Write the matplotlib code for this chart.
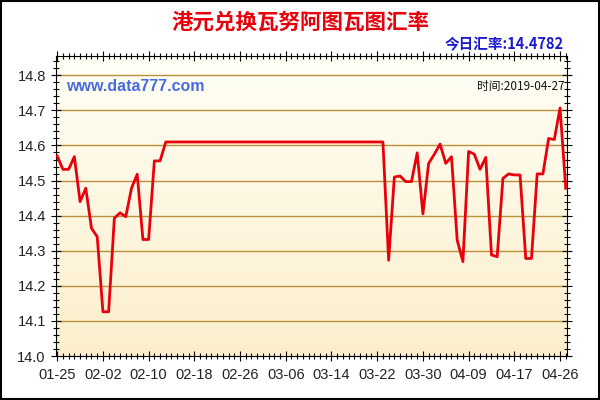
import numpy as np
import matplotlib
matplotlib.use('Agg')
import matplotlib.pyplot as plt
from matplotlib.ticker import MultipleLocator

plt.rcParams['font.family'] = ['Liberation Sans', 'Noto Sans CJK SC', 'DejaVu Sans']

# ─── data (HKD -> VUV, one point per trading day) ───
rates = [
    14.570, 14.532, 14.532, 14.568, 14.440, 14.478, 14.364, 14.340, 14.126, 14.126,
    14.393, 14.408, 14.397, 14.478, 14.518, 14.332, 14.332, 14.556, 14.556, 14.610,
    14.610, 14.610, 14.610, 14.610, 14.610, 14.610, 14.610, 14.610, 14.610, 14.610,
    14.610, 14.610, 14.610, 14.610, 14.610, 14.610, 14.610, 14.610, 14.610, 14.610,
    14.610, 14.610, 14.610, 14.610, 14.610, 14.610, 14.610, 14.610, 14.610, 14.610,
    14.610, 14.610, 14.610, 14.610, 14.610, 14.610, 14.610, 14.610, 14.273, 14.510,
    14.513, 14.497, 14.497, 14.579, 14.405, 14.549, 14.575, 14.604, 14.549, 14.568,
    14.330, 14.269, 14.583, 14.575, 14.532, 14.566, 14.288, 14.283, 14.506, 14.519,
    14.516, 14.516, 14.278, 14.278, 14.519, 14.519, 14.620, 14.617, 14.707, 14.4782,
]
tick_labels = ["01-25", "02-02", "02-10", "02-18", "02-26", "03-06",
               "03-14", "03-22", "03-30", "04-09", "04-17", "04-26"]
title = "港元兑换瓦努阿图瓦图汇率"
today_rate = "今日汇率:14.4782"
date_text = "时间:2019-04-27"
site = "www.data777.com"

x = np.arange(len(rates))

fig = plt.figure(figsize=(6, 4), dpi=100)
ax = fig.add_axes([0.0925, 0.11, 0.8533, 0.75])

# background gradient of the plot area
ymin, ymax = 14.0, 14.855
grad = np.linspace(0, 1, 256).reshape(-1, 1)
top = np.array([1.0, 1.0, 0.965])
bot = np.array([0.99, 0.935, 0.80])
img = top + (bot - top) * grad[:, :, None] * np.ones((1, 1, 3))
ax.imshow(img, aspect='auto', extent=[-0.3, 89.3, ymin, ymax], origin='upper', zorder=0)

for v in np.arange(14.1, 14.85, 0.1):
    ax.axhline(v, color="#b8913a", linewidth=1, zorder=1)

ax.plot(x, rates, color="#e8000b", linewidth=2, zorder=3)

ax.set_xlim(-0.3, 89.3)
ax.set_ylim(ymin, ymax)
ax.set_xticks(np.arange(0, len(rates), 8))
ax.set_xticklabels(tick_labels)
ax.xaxis.set_minor_locator(MultipleLocator(1))
ax.yaxis.set_major_locator(MultipleLocator(0.1))
ax.yaxis.set_minor_locator(MultipleLocator(0.02))
ax.yaxis.set_major_formatter(matplotlib.ticker.FormatStrFormatter('%.1f'))
ax.tick_params(which='both', direction='inout', top=True, right=True,
               labelsize=10.5, labelcolor="#222222", width=0.8)
ax.tick_params(which='major', length=7)
ax.tick_params(which='minor', length=4)
ax.tick_params(axis='x', pad=5)
for s in ax.spines.values():
    s.set_linewidth(0.8)

fig.text(0.5, 0.945, title, ha='center', va='center', color="#e8000b",
         fontsize=15.5, fontweight='bold', family=['Noto Sans CJK SC'])
fig.text(0.94, 0.89, today_rate, ha='right', va='center', color="#1a1ad0",
         fontsize=10.5, fontweight='bold', family=['Noto Sans CJK SC', 'DejaVu Sans'])
ax.text(0.02, 0.898, site, transform=ax.transAxes, ha='left', va='center',
        color="#4a6ae0", fontsize=11.5, fontweight='bold')
ax.text(0.995, 0.898, date_text, transform=ax.transAxes, ha='right', va='center',
        color="#111111", fontsize=8.5, family=['Noto Sans CJK SC', 'DejaVu Sans'])

# outer frame
fig.patches.append(plt.Rectangle((0.002, 0.003), 0.996, 0.994, transform=fig.transFigure,
                                 fill=False, edgecolor='black', linewidth=1.5))

fig.savefig("out.png", dpi=100)
